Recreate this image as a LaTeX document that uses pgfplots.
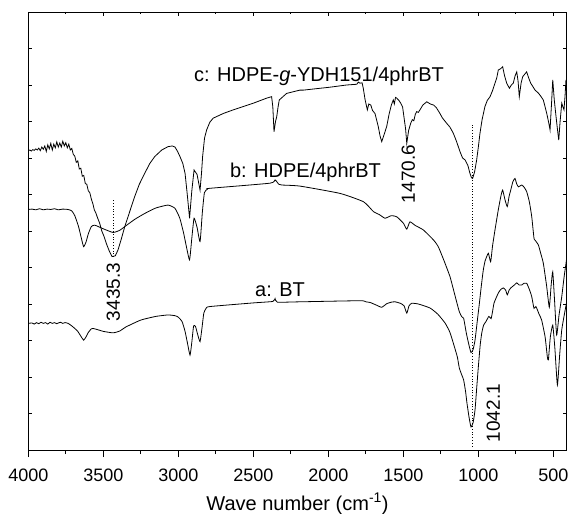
\documentclass[border=0pt]{standalone}
\usepackage{fontspec}
\setmainfont{Liberation Sans}
\usepackage{pgfplots}
\pgfplotsset{compat=1.18}
\begin{document}
\begin{tikzpicture}
\pgfplotsset{
  common/.style={
    width=538.4bp, height=438bp, scale only axis,
    x dir=reverse, xmin=411, xmax=4000, ymin=0, ymax=12,
    xtick={500,1000,...,4000}, minor x tick num=1,
    ytick={0,1,...,12}, yticklabels={},
    axis line style={line width=0.8bp},
    every tick/.style={black, line width=0.8bp},
    /pgf/number format/set thousands separator={},
    /pgf/number format/assume math mode=true,
  },
  spec/.style={black, line width=0.8bp, smooth, tension=0.3},
}
\begin{axis}[common,
  tick align=outside, xtick pos=bottom, ytick=\empty,
  major tick length=7bp, minor tick length=4bp,
  xticklabels={}]
\end{axis}
\begin{axis}[common,
  tick align=inside, xtick pos=top, ytick pos=both, xticklabel pos=bottom,
  major tick length=4bp, minor tick length=2.5bp,
  xticklabel style={font=\fontsize{18bp}{20bp}\selectfont, anchor=base, yshift=-31bp},
  xlabel={Wave number (cm\textsuperscript{-1})},
  xlabel style={font=\fontsize{20bp}{22bp}\selectfont, at={(axis description cs:0.5,0)}, anchor=base, yshift=-60bp},
]
\coordinate (SW) at (axis description cs:0,0);
\coordinate (NE) at (axis description cs:1,1);
% a: BT
\addplot[spec] coordinates {
(4000,3.47)(3975,3.48)(3960,3.45)(3945,3.49)(3930,3.46)(3915,3.50)(3900,3.47)(3885,3.49)(3870,3.45)(3855,3.50)
(3840,3.47)(3825,3.49)(3810,3.46)(3800,3.48)(3785,3.50)(3770,3.47)(3755,3.49)(3735,3.47)
(3710,3.40)(3690,3.33)(3670,3.25)(3650,3.12)(3631,3.01)(3615,3.10)(3600,3.22)(3580,3.32)(3569,3.33)(3540,3.30)
(3500,3.25)(3435,3.21)(3390,3.26)(3350,3.37)(3250,3.56)
(3150,3.66)(3069,3.70)(3022,3.68)(3000,3.64)(2975,3.52)(2955,3.25)(2940,2.95)(2922,2.60)(2910,2.95)(2898,3.40)
(2885,3.38)(2870,3.15)(2855,2.97)(2842,3.35)(2830,3.75)(2815,3.88)(2790,3.93)(2500,4.03)(2370,4.07)(2355,4.15)(2340,4.05)
(2189,4.06)(1789,4.09)(1750,4.06)(1720,4.04)(1680,3.97)(1644,3.91)(1610,4.01)(1580,4.05)(1555,4.06)(1520,4.02)(1495,3.95)(1477,3.75)(1462,3.95)(1444,4.02)
(1400,4.00)(1322,3.89)(1270,3.72)(1222,3.48)(1190,3.23)(1167,2.93)(1140,2.55)(1127,2.25)(1110,2.05)(1098,1.92)(1085,1.60)(1076,1.29)(1062,0.90)(1049,0.63)(1035,0.75)(1022,1.10)
(1010,1.75)(998,2.38)(987,2.90)(977,3.21)(965,3.42)(949,3.52)(930,3.66)(915,3.60)(905,3.80)(895,4.03)(867,4.30)(850,4.40)(833,4.44)(818,4.38)(807,4.25)(795,4.38)(784,4.44)
(760,4.52)(744,4.58)(728,4.52)(711,4.52)(695,4.57)(678,4.57)(660,4.40)(644,4.20)(629,3.88)(616,3.93)(595,3.72)(578,3.56)(555,3.10)(540,2.55)(533,2.47)(520,3.10)(504,3.42)(490,2.80)(473,1.78)
(458,2.60)(444,3.29)(425,3.75)(411,4.06)
};
% b: HDPE/4phrBT
\addplot[spec] coordinates {
(4000,6.59)(3975,6.60)(3950,6.58)(3925,6.61)(3900,6.58)(3875,6.60)(3850,6.59)(3825,6.61)(3800,6.58)(3770,6.60)(3735,6.59)(3710,6.55)(3690,6.42)(3665,6.12)(3645,5.78)(3631,5.57)
(3615,5.70)(3600,5.92)(3580,6.12)(3557,6.16)(3500,6.06)(3435,5.96)(3390,6.02)(3357,6.12)(3290,6.32)(3224,6.48)(3150,6.63)(3069,6.71)(3022,6.62)(2990,6.35)(2965,5.95)
(2945,5.55)(2925,5.21)(2910,5.80)(2895,6.35)(2875,6.10)(2855,5.71)(2840,6.50)(2826,7.05)(2805,7.15)(2789,7.17)(2389,7.31)(2355,7.40)(2330,7.28)(2311,7.26)
(2189,7.23)(1922,7.03)(1765,6.80)(1699,6.53)(1660,6.45)(1622,6.35)(1580,6.42)(1544,6.39)(1499,6.21)(1477,6.05)(1456,6.25)(1420,6.15)
(1367,6.03)(1298,5.75)(1267,5.57)(1230,5.20)(1189,4.75)(1160,4.30)(1127,3.79)(1110,3.65)(1098,3.61)(1080,3.20)(1065,2.92)(1049,2.67)(1035,2.75)(1022,3.01)
(1008,3.50)(993,4.02)(980,4.50)(967,4.93)(955,5.18)(944,5.30)(933,5.39)(918,5.16)(905,5.60)(889,6.03)(867,6.58)(850,6.95)(838,7.12)(822,6.85)(807,6.67)(795,6.95)(784,7.12)
(770,7.35)(756,7.44)(745,7.30)(733,7.21)(711,7.26)(695,7.20)(678,7.08)(660,6.80)(644,6.39)(629,5.80)(622,5.75)(600,5.62)(585,5.40)(567,5.12)(545,4.50)(527,3.91)
(515,4.50)(504,4.88)(492,4.10)(478,3.15)(462,3.70)(444,4.20)(428,4.75)(411,5.25)
};
% c: HDPE-g-YDH151/4phrBT
\addplot[black, line width=0.8bp] coordinates {
(4000,8.20)(3990,8.22)(3980,8.19)(3970,8.23)(3960,8.21)(3950,8.25)(3940,8.22)(3930,8.27)(3920,8.20)(3910,8.30)(3900,8.24)
(3890,8.33)(3880,8.18)(3870,8.36)(3860,8.25)(3850,8.40)(3840,8.22)(3830,8.38)(3820,8.28)(3810,8.44)(3800,8.30)
(3790,8.41)(3780,8.30)(3770,8.46)(3760,8.33)(3750,8.42)(3740,8.28)(3730,8.38)(3720,8.22)(3710,8.26)(3700,8.10)
(3690,8.05)(3680,7.88)(3670,7.92)(3660,7.70)(3650,7.72)(3640,7.50)(3630,7.52)(3620,7.30)(3610,7.28)(3600,7.10)
(3590,7.05)(3580,6.88)(3569,6.74)(3560,6.58)(3550,6.50)(3540,6.38)(3524,6.21)(3510,6.00)(3495,5.85)(3480,5.66)
(3460,5.45)(3442,5.30)(3420,5.32)(3402,5.48)(3380,5.78)(3357,6.12)(3320,6.58)(3291,6.94)(3260,7.28)(3224,7.58)(3190,7.85)(3157,8.04)
(3110,8.22)(3069,8.31)(3040,8.33)(3022,8.30)(3005,8.18)(2989,8.04)(2970,7.85)(2955,7.58)(2940,6.99)(2925,6.35)(2910,7.10)(2895,7.67)(2875,7.55)(2855,7.12)(2845,7.60)(2838,8.04)
(2825,8.55)(2811,8.77)(2790,8.98)(2768,9.09)(2700,9.22)(2633,9.32)(2501,9.50)(2411,9.64)(2378,9.68)(2370,9.40)(2362,8.72)(2352,9.00)(2344,9.13)(2335,9.40)(2327,9.59)
(2278,9.77)(2189,9.86)(2165,9.86)(1989,9.94)(1878,10.00)(1810,10.02)(1800,10.08)(1789,10.05)(1775,10.06)(1767,9.91)(1755,9.60)(1740,9.32)(1730,9.48)(1717,9.45)(1705,9.30)
(1689,9.22)(1667,8.86)(1655,8.60)(1644,8.45)(1630,8.62)(1611,8.86)(1595,9.20)(1580,9.45)(1567,9.59)(1560,9.48)(1552,9.66)(1544,9.64)(1530,9.58)(1517,9.50)(1505,9.40)(1499,9.22)(1485,8.80)(1477,8.40)
(1465,8.75)(1451,8.95)(1440,9.05)(1430,9.02)(1420,9.20)(1411,9.27)(1400,9.25)(1389,9.32)(1370,9.45)(1344,9.54)(1320,9.48)(1298,9.45)(1280,9.38)(1256,9.22)(1240,9.10)(1211,8.95)(1190,8.85)(1167,8.68)(1145,8.45)(1122,8.17)
(1105,8.00)(1089,7.95)(1070,7.80)(1056,7.58)(1046,7.46)(1038,7.44)(1025,7.62)(1011,7.95)(1000,8.30)(989,8.68)(975,9.05)(956,9.41)(940,9.58)(922,9.68)(905,9.85)(889,10.05)(877,10.20)(867,10.41)
(850,10.45)(838,10.50)(825,10.25)(811,10.05)(793,9.91)(780,10.00)(767,10.05)(755,10.25)(744,10.36)(735,10.10)(727,9.68)(715,10.05)(704,10.23)(690,10.30)(678,10.36)(665,10.20)(651,10.05)
(640,9.98)(622,9.86)(600,9.78)(585,9.70)(567,9.59)(555,9.40)(544,9.22)(530,8.95)(522,8.77)(512,9.50)(504,10.14)(494,9.60)(482,9.13)(473,8.80)(464,8.49)(455,9.00)(444,9.50)(436,9.40)(429,9.32)(422,9.70)(416,10.14)(411,9.80)
};
% dotted markers
\addplot[black, dotted, line width=0.8bp] coordinates {(3435,5.29)(3435,6.85)};
\addplot[black, dotted, line width=0.8bp] coordinates {(1040,0.1)(1040,8.9)};
% labels
\node[font=\fontsize{20bp}{22bp}\selectfont] at (axis cs:2062,10.25) {c: HDPE-\textit{g}-YDH151/4phrBT};
\node[font=\fontsize{20bp}{22bp}\selectfont] at (axis cs:2152,7.62) {b: HDPE/4phrBT};
\node[font=\fontsize{20bp}{22bp}\selectfont] at (axis cs:2322,4.40) {a: BT};
\node[font=\fontsize{19bp}{21bp}\selectfont, rotate=90] at (axis cs:3433,4.33) {3435.3};
\node[font=\fontsize{19bp}{21bp}\selectfont, rotate=90] at (axis cs:1467,7.56) {1470.6};
\node[font=\fontsize{19bp}{21bp}\selectfont, rotate=90] at (axis cs:900,1.01) {1042.1};
\end{axis}
\pgfresetboundingbox
\path[use as bounding box] ([xshift=-28.3bp,yshift=-64bp]SW) rectangle ([xshift=3.3bp,yshift=12bp]NE);
\end{tikzpicture}
\end{document}
